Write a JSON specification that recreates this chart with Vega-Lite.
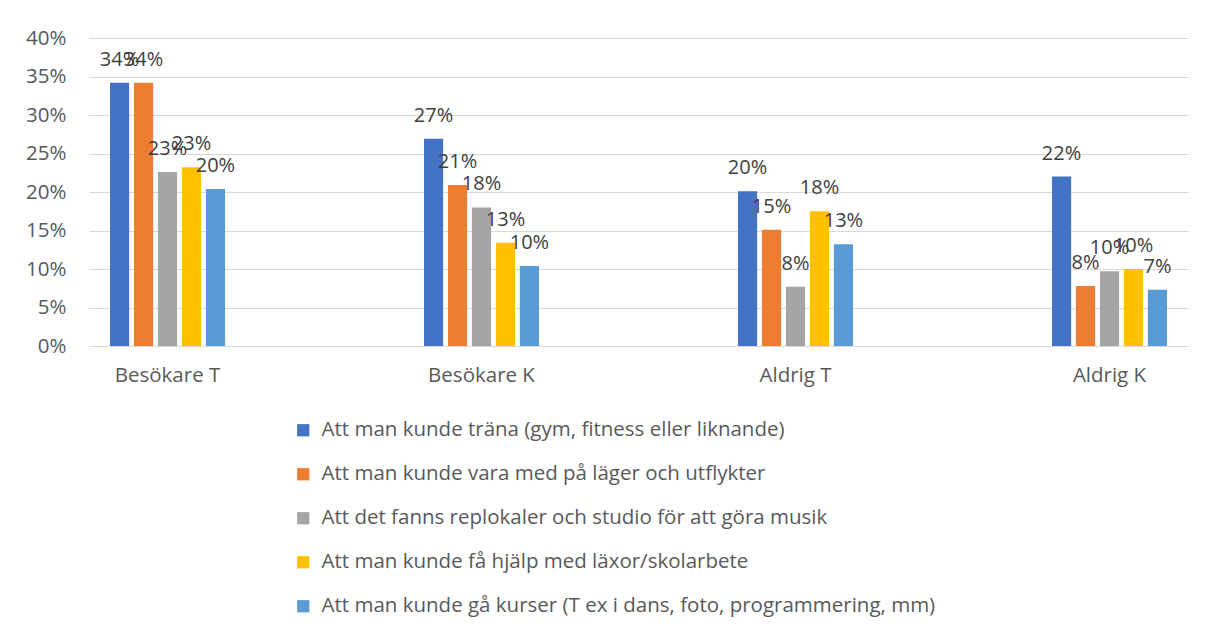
{
  "$schema": "https://vega.github.io/schema/vega-lite/v6.json",
  "width": 1099,
  "height": 308,
  "autosize": "none",
  "padding": {"left": 89, "top": 38, "right": 18, "bottom": 291},
  "background": "white",
  "config": {
    "view": {"stroke": null},
    "font": "Open Sans",
    "axis": {"labelFont": "Open Sans", "labelColor": "#595959", "labelFontSize": 20.5},
    "legend": {"labelFont": "Open Sans", "labelColor": "#595959", "labelFontSize": 20.5}
  },
  "data": {
    "values": [
      {"cat": "Besökare T", "series": "Att man kunde träna (gym, fitness eller liknande)", "value": 0.342},
      {"cat": "Besökare T", "series": "Att man kunde vara med på läger och utflykter", "value": 0.342},
      {"cat": "Besökare T", "series": "Att det fanns replokaler och studio för att göra musik", "value": 0.226},
      {"cat": "Besökare T", "series": "Att man kunde få hjälp med läxor/skolarbete", "value": 0.232},
      {"cat": "Besökare T", "series": "Att man kunde gå kurser (T ex i dans, foto, programmering, mm)", "value": 0.204},
      {"cat": "Besökare K", "series": "Att man kunde träna (gym, fitness eller liknande)", "value": 0.269},
      {"cat": "Besökare K", "series": "Att man kunde vara med på läger och utflykter", "value": 0.209},
      {"cat": "Besökare K", "series": "Att det fanns replokaler och studio för att göra musik", "value": 0.18},
      {"cat": "Besökare K", "series": "Att man kunde få hjälp med läxor/skolarbete", "value": 0.134},
      {"cat": "Besökare K", "series": "Att man kunde gå kurser (T ex i dans, foto, programmering, mm)", "value": 0.104},
      {"cat": "Aldrig T", "series": "Att man kunde träna (gym, fitness eller liknande)", "value": 0.201},
      {"cat": "Aldrig T", "series": "Att man kunde vara med på läger och utflykter", "value": 0.151},
      {"cat": "Aldrig T", "series": "Att det fanns replokaler och studio för att göra musik", "value": 0.077},
      {"cat": "Aldrig T", "series": "Att man kunde få hjälp med läxor/skolarbete", "value": 0.175},
      {"cat": "Aldrig T", "series": "Att man kunde gå kurser (T ex i dans, foto, programmering, mm)", "value": 0.132},
      {"cat": "Aldrig K", "series": "Att man kunde träna (gym, fitness eller liknande)", "value": 0.22},
      {"cat": "Aldrig K", "series": "Att man kunde vara med på läger och utflykter", "value": 0.078},
      {"cat": "Aldrig K", "series": "Att det fanns replokaler och studio för att göra musik", "value": 0.097},
      {"cat": "Aldrig K", "series": "Att man kunde få hjälp med läxor/skolarbete", "value": 0.1},
      {"cat": "Aldrig K", "series": "Att man kunde gå kurser (T ex i dans, foto, programmering, mm)", "value": 0.073}
    ]
  },
  "encoding": {
    "x": {
      "field": "cat", "type": "nominal", "sort": null,
      "scale": {"paddingInner": 0.5, "paddingOuter": 0},
      "axis": {"title": null, "labelAngle": 0, "ticks": false, "domainColor": "#d9d9d9", "domainWidth": 1, "labelPadding": 19}
    },
    "xOffset": {
      "field": "series", "type": "nominal", "sort": null,
      "scale": {"paddingInner": 0.2, "paddingOuter": 0.875}
    },
    "y": {
      "field": "value", "type": "quantitative",
      "scale": {"domain": [0, 0.4], "nice": false},
      "axis": {"title": null, "format": ".0%", "values": [0, 0.05, 0.1, 0.15, 0.2, 0.25, 0.3, 0.35, 0.4], "ticks": false, "domain": false, "gridColor": "#d9d9d9", "gridWidth": 1, "labelPadding": 23}
    }
  },
  "layer": [
    {
      "mark": {"type": "bar"},
      "encoding": {
        "color": {
          "field": "series", "type": "nominal", "sort": null,
          "scale": {"range": ["#4472C4", "#ED7D31", "#A5A5A5", "#FFC000", "#5B9BD5"]},
          "legend": {"title": null, "orient": "none", "legendX": 204, "legendY": 382, "direction": "vertical", "symbolType": "square", "symbolSize": 150, "symbolStrokeWidth": 0, "labelLimit": 0, "rowPadding": 23, "labelOffset": 8}
        }
      }
    },
    {
      "mark": {"type": "text", "baseline": "bottom", "dy": -13, "fontSize": 20, "color": "#404040", "font": "Open Sans"},
      "encoding": {
        "text": {"field": "value", "type": "quantitative", "format": ".0%"}
      }
    }
  ]
}
